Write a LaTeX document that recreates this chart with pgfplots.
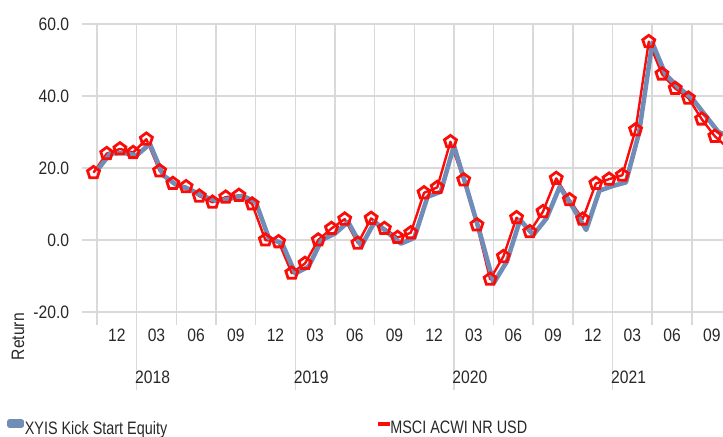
\documentclass[border=0pt]{standalone}
\usepackage{fontspec}
\setmainfont{Liberation Sans}[FakeStretch=0.87]
\newfontfamily\legendfont{Liberation Sans}[FakeStretch=0.80]
\usepackage{pgfplots}
\pgfplotsset{compat=1.18}
\definecolor{fundblue}{RGB}{112,141,184}
\definecolor{idxred}{RGB}{250,12,8}
\definecolor{gridgray}{RGB}{217,217,217}
\definecolor{txt}{RGB}{40,40,40}
\newcommand{\bigfont}{\fontsize{18bp}{21bp}\selectfont}

\pgfplotstableread{
i fund
0 19.3
1 24.0
2 24.2
3 23.5
4 26.7
5 18.0
6 15.3
7 14.1
8 12.2
9 10.9
10 11.4
11 12.3
12 10.6
13 0.5
14 -0.9
15 -9.3
16 -7.4
17 0.0
18 1.8
19 5.0
20 -1.7
21 5.1
22 2.0
23 -1.0
24 0.6
25 12.0
26 13.4
27 26.2
28 14.0
29 1.5
30 -12.0
31 -6.0
32 5.6
33 1.4
34 6.0
35 14.8
36 9.0
37 2.8
38 13.7
39 15.0
40 16.0
41 29.8
42 54.8
43 46.0
44 42.3
45 39.4
46 34.7
47 30.0
48 28.5
}\fundtable

\pgfplotstableread{
i idx
0 18.7
1 24.0
2 25.3
3 24.3
4 28.0
5 19.2
6 15.7
7 14.8
8 12.2
9 10.5
10 11.9
11 12.4
12 10.0
13 0.0
14 -0.5
15 -9.2
16 -6.5
17 0.0
18 3.2
19 5.8
20 -0.9
21 6.0
22 3.2
23 0.7
24 2.0
25 13.1
26 14.6
27 27.3
28 16.7
29 4.2
30 -10.9
31 -4.6
32 6.2
33 2.3
34 7.9
35 17.1
36 11.2
37 5.8
38 15.7
39 16.9
40 18.0
41 30.6
42 55.1
43 46.1
44 42.1
45 39.4
46 33.6
47 28.8
48 25.5
}\idxtable

\begin{document}
\begin{tikzpicture}
\useasboundingbox (-82bp,-125bp) rectangle (641bp,312bp);
\begin{axis}[
  scale only axis,
  width=641bp, height=288bp,
  xmin=-1.135, xmax=47.35,
  ymin=-20, ymax=60,
  axis line style={draw=none},
  tick align=outside,
  major tick length=13bp,
  minor tick length=13bp,
  xtick pos=lower, ytick pos=left,
  xtick={1.5,4.5,...,46.5},
  xticklabels={12,03,06,09,12,03,06,09,12,03,06,09,12,03,06,09},
  minor xtick={0,3,...,45},
  major x tick style={draw=none},
  minor x tick style={draw=gridgray, line width=1.6bp},
  xminorgrids=true,
  ymajorgrids=true,
  minor grid style={draw=gridgray, line width=1.6bp},
  major grid style={draw=gridgray, line width=1.6bp},
  ytick={-20,0,20,40,60},
  ytick style={draw=none},
  yticklabel={\pgfmathprintnumber[fixed,fixed zerofill,precision=1,assume math mode=true]{\tick}},
  tick label style={font=\bigfont, text=txt},
  yticklabel style={xshift=3.7bp},
  extra x ticks={3,15,27,39},
  extra x tick labels={2018,2019,2020,2021},
  extra x tick style={
    major tick length=78bp,
    major x tick style={draw=gridgray, line width=1.6bp},
    xticklabel style={anchor=north west, xshift=-5bp, yshift=23bp}
  },
  ylabel={Return},
  every axis y label/.style={at={(axis description cs:-0.0998,-0.0858)}, rotate=90, anchor=center, font=\bigfont, text=txt},
  legend columns=2,
  legend style={
    at={(axis description cs:-0.11654,-0.4010)}, anchor=west,
    draw=none, fill=none, inner sep=0pt,
    nodes={inner sep=0pt, text=txt},
    font=\legendfont\fontsize{18bp}{21bp}\selectfont,
    /tikz/every odd column/.append style={column sep=1bp},
  },
  legend cell align=left,
]
\addplot[idxred, line width=2.4bp, line join=round, xshift=-3.5bp,
  mark=pentagon, mark size=6.3bp,
  mark options={solid, fill=white, draw=idxred, line width=2.8bp, line join=miter},
  forget plot] table[x=i, y=idx] {\idxtable};
\addplot[fundblue, line width=4.6bp, line join=round,
  legend image code/.code={\fill[fundblue] (0bp,3bp) rectangle (11.7bp,6.5bp);}]
  table[x=i, y=fund] {\fundtable};
\addlegendentry{\makebox[353.5bp][l]{XYIS Kick Start Equity}}
\addlegendimage{legend image code/.code={\fill[idxred] (0bp,3bp) rectangle (10.7bp,6.5bp);}}
\addlegendentry{MSCI ACWI NR USD}
\end{axis}
\end{tikzpicture}
\end{document}
